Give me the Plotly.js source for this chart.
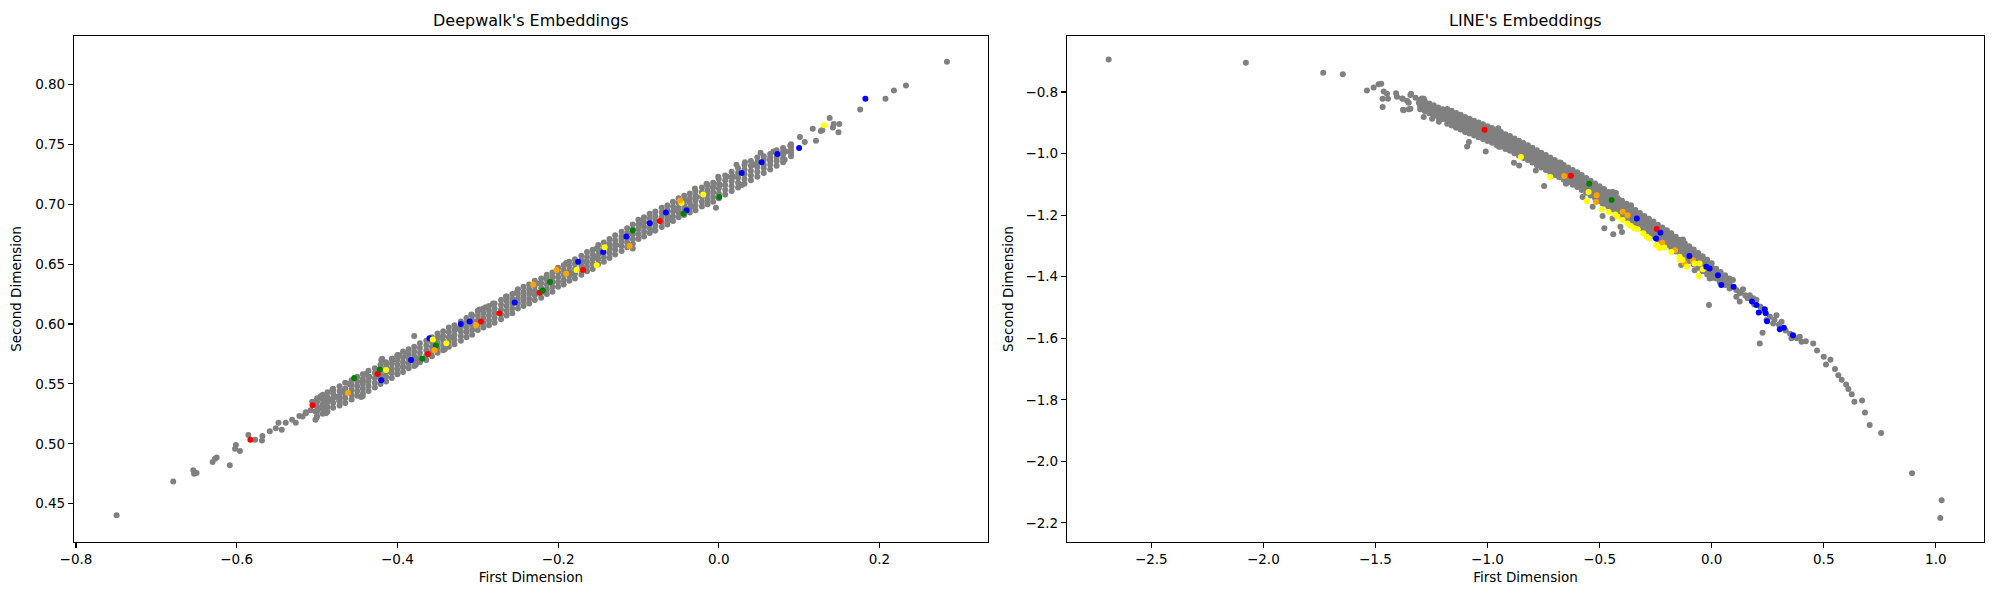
<!DOCTYPE html>
<html>
<head>
<meta charset="utf-8">
<script src="https://cdn.plot.ly/plotly-3.0.1.min.js"></script>
<style>
  html, body { margin: 0; padding: 0; background: #fff; }
  #chart { width: 2000px; height: 600px; }
</style>
</head>
<body>
<div id="chart"></div>
<script>
// ---- Deepwalk's embeddings (left panel) ----
// points
var dwGrayX = [-0.7495,-0.679,-0.654,-0.653,-0.650,-0.630,-0.627,-0.625,-0.6086,-0.601,-0.602,-0.596,-0.577,-0.5686,
  -0.5855,-0.568,-0.5588,-0.5513,-0.5439,-0.539,-0.548,-0.531,-0.5264,-0.522,-0.514,-0.508,-0.5006,-0.4952,-0.4973,-0.488,-0.4807,-0.4765,-0.4724,-0.4432,-0.4391,-0.419,-0.406,-0.3996,
  -0.2147,-0.235,-0.252,-0.265,-0.281,-0.290,-0.298,-0.308,-0.327,-0.331,-0.348,-0.379,-0.341,-0.377,-0.377,-0.389,-0.398,-0.393,-0.406,-0.414,-0.408,-0.420,-0.418,-0.435,-0.443,-0.460,-0.445,-0.468,-0.472,-0.480,-0.485,-0.495,-0.493,-0.506,-0.502,-0.489,-0.514,-0.518,-0.502,
  0.138,0.143,0.150,0.149,0.117,0.121,0.127,0.101,0.107,0.089,0.084,0.082,0.068,0.0637,0.052,0.043,0.0326,0.022,0.018,0.0285,0.010,-0.0007,0.0014,-0.007,-0.0152,-0.0297,-0.0035,-0.0277,-0.038,-0.034,-0.0546,-0.059,-0.0797,-0.094,-0.098,-0.121,-0.107,-0.1275,-0.136,-0.152,-0.154,-0.169,-0.181,-0.190,-0.223,
  0.284,0.233,0.218,0.2075,0.176,0.142,0.129];
var dwGrayY = [0.4403,0.4686,0.4778,0.4750,0.4756,0.4847,0.4875,0.4886,0.4820,0.4990,0.4958,0.4939,0.5033,0.5028,
  0.5073,0.5064,0.5105,0.5130,0.5118,0.5175,0.5175,0.5200,0.5175,0.5232,0.5264,0.5280,0.5217,0.5398,0.5296,0.5270,0.5455,0.5392,0.5360,0.5398,0.5583,0.5710,0.5710,0.5742,
  0.639,0.626,0.626,0.623,0.617,0.614,0.612,0.608,0.596,0.589,0.589,0.590,0.579,0.570,0.566,0.575,0.574,0.564,0.570,0.567,0.560,0.570,0.556,0.556,0.552,0.550,0.539,0.544,0.539,0.545,0.537,0.539,0.532,0.535,0.527,0.5255,0.5255,0.5227,0.520,
  0.772,0.767,0.767,0.760,0.763,0.753,0.761,0.756,0.752,0.749,0.744,0.737,0.744,0.737,0.743,0.733,0.735,0.733,0.723,0.716,0.723,0.723,0.716,0.7145,0.717,0.713,0.697,0.706,0.703,0.698,0.695,0.687,0.678,0.687,0.683,0.671,0.663,0.666,0.664,0.663,0.656,0.652,0.642,0.651,0.634,
  0.819,0.799,0.795,0.788,0.779,0.764,0.762];

// dense core of the band: x, then the y values stacked across the band
var dwBandRows = [
  [-0.500,0.523,0.527,0.531,0.535,0.538],[-0.493,0.525,0.529,0.533,0.537,0.541],[-0.487,0.527,0.531,0.535,0.539,0.543],
  [-0.480,0.530,0.534,0.538,0.542,0.546],[-0.472,0.532,0.536,0.540,0.544,0.548],[-0.465,0.534,0.538,0.542,0.546,0.551],
  [-0.457,0.537,0.541,0.545,0.549,0.553],[-0.450,0.540,0.544,0.548,0.552,0.556],[-0.443,0.542,0.546,0.550,0.554,0.558],
  [-0.436,0.544,0.548,0.552,0.556,0.561],[-0.428,0.547,0.551,0.555,0.559,0.563],[-0.421,0.550,0.554,0.558,0.562,0.566],
  [-0.414,0.552,0.556,0.560,0.564,0.568],[-0.407,0.555,0.559,0.563,0.567,0.571],[-0.400,0.558,0.562,0.566,0.570,0.574],
  [-0.393,0.560,0.564,0.568,0.572,0.577],[-0.386,0.563,0.567,0.571,0.575,0.579],[-0.379,0.565,0.569,0.573,0.577,0.581],
  [-0.372,0.568,0.572,0.576,0.580,0.584],[-0.364,0.570,0.574,0.578,0.582,0.586],[-0.357,0.573,0.577,0.581,0.585,0.589],
  [-0.350,0.576,0.580,0.584,0.588,0.592],[-0.343,0.578,0.582,0.586,0.590,0.594],[-0.336,0.581,0.585,0.589,0.593,0.597],
  [-0.329,0.583,0.587,0.591,0.595,0.599],[-0.321,0.586,0.590,0.594,0.598,0.602],[-0.314,0.589,0.593,0.597,0.601,0.605],
  [-0.307,0.591,0.595,0.599,0.603,0.607],[-0.300,0.595,0.599,0.603,0.607,0.611],[-0.293,0.597,0.601,0.605,0.609,0.613],
  [-0.286,0.599,0.603,0.607,0.611,0.615],[-0.279,0.601,0.605,0.609,0.613,0.617],[-0.271,0.604,0.608,0.612,0.616,0.620],
  [-0.264,0.607,0.611,0.615,0.619,0.623],[-0.257,0.609,0.613,0.617,0.621,0.625],[-0.250,0.613,0.617,0.621,0.625,0.629],
  [-0.243,0.615,0.619,0.623,0.627,0.631],[-0.236,0.617,0.621,0.625,0.629,0.633],[-0.229,0.620,0.624,0.628,0.632,0.636],
  [-0.221,0.622,0.626,0.630,0.634,0.638],[-0.214,0.625,0.629,0.633,0.637,0.641],[-0.207,0.627,0.631,0.635,0.639,0.643],
  [-0.200,0.631,0.635,0.639,0.643,0.647],[-0.193,0.633,0.637,0.641,0.645,0.649],[-0.186,0.636,0.640,0.644,0.648,0.652],
  [-0.179,0.638,0.642,0.646,0.650,0.654],[-0.171,0.641,0.645,0.649,0.653,0.657],[-0.164,0.644,0.648,0.652,0.656,0.660],
  [-0.157,0.646,0.650,0.654,0.658,0.662],[-0.150,0.650,0.654,0.658,0.662,0.666],[-0.143,0.652,0.656,0.660,0.664,0.668],
  [-0.136,0.655,0.659,0.663,0.667,0.671],[-0.129,0.658,0.662,0.666,0.670,0.674],[-0.121,0.661,0.665,0.669,0.673,0.677],
  [-0.114,0.664,0.668,0.672,0.676,0.680],[-0.107,0.667,0.671,0.675,0.679,0.683],[-0.100,0.671,0.675,0.679,0.683,0.687],
  [-0.093,0.673,0.677,0.681,0.685,0.689],[-0.086,0.676,0.680,0.684,0.688,0.692],[-0.079,0.678,0.682,0.686,0.690,0.694],
  [-0.071,0.681,0.685,0.689,0.693,0.697],[-0.064,0.683,0.687,0.691,0.695,0.699],[-0.057,0.686,0.690,0.694,0.698,0.702],
  [-0.050,0.689,0.693,0.697,0.701,0.705],[-0.043,0.691,0.695,0.699,0.703,0.707],[-0.036,0.693,0.697,0.701,0.705,0.709],
  [-0.029,0.695,0.699,0.703,0.707,0.711],[-0.021,0.698,0.702,0.706,0.710,0.714],[-0.014,0.700,0.704,0.708,0.712,0.716],
  [-0.007,0.702,0.706,0.710,0.714,0.718],[0.000,0.705,0.709,0.713,0.717,0.721],[0.008,0.708,0.712,0.716,0.720,0.724],
  [0.016,0.711,0.715,0.719,0.723,0.727],[0.024,0.714,0.718,0.722,0.726,0.730],[0.032,0.717,0.721,0.725,0.729,0.733],
  [0.040,0.720,0.724,0.728,0.732,0.736],[0.048,0.723,0.727,0.731,0.735,0.739],[0.056,0.726,0.730,0.733,0.737,0.740],
  [0.064,0.729,0.733,0.736,0.739,0.742],[0.072,0.732,0.736,0.739,0.742,0.745],[0.080,0.735,0.738,0.741,0.744,0.747],
  [0.090,0.740,0.743,0.745,0.748,0.750]];

var dwRedX = [-0.583,-0.5056,-0.4245,-0.362,-0.296,-0.273,-0.223,-0.169,-0.0734];
var dwRedY = [0.5033,0.5322,0.5583,0.575,0.602,0.609,0.626,0.645,0.686];
var dwBlueX = [-0.420,-0.383,-0.360,-0.321,-0.310,-0.254,-0.175,-0.144,-0.115,-0.0859,-0.0658,-0.040,0.0285,0.0533,0.073,0.100,0.1825];
var dwBlueY = [0.553,0.570,0.588,0.600,0.602,0.618,0.652,0.660,0.673,0.684,0.693,0.695,0.726,0.735,0.742,0.747,0.788];
var dwGreenX = [-0.4537,-0.422,-0.369,-0.352,-0.219,-0.210,-0.107,-0.044,0.0006];
var dwGreenY = [0.555,0.562,0.571,0.582,0.628,0.635,0.678,0.692,0.706];
var dwYellowX = [-0.414,-0.356,-0.339,-0.177,-0.152,-0.142,-0.0464,-0.0193,0.131];
var dwYellowY = [0.5615,0.587,0.584,0.645,0.649,0.664,0.701,0.708,0.766];
var dwOrangeX = [-0.4615,-0.354,-0.302,-0.231,-0.202,-0.190,-0.111,-0.048];
var dwOrangeY = [0.5424,0.578,0.599,0.633,0.645,0.642,0.665,0.703];

// ---- LINE's embeddings (right panel) ----
var lnGrayX = [-2.69,-2.078,-1.733,-1.6455,-1.538,-1.508,-1.486,-1.474,-1.463,-1.4485,-1.468,-1.444,-1.468,-1.408,-1.404,-1.378,-1.359,-1.341,-1.3515,-1.377,-1.3515,
  -1.321,-1.3067,-1.2844,-1.2844,-1.2696,-1.2472,-1.2472,-1.2248,-1.217,-1.2025,-1.1725,-1.180,-1.158,-1.142,-1.135,-1.101,-1.113,-1.091,-1.098,-1.068,-1.053,-1.083,-1.091,
  -1.031,-1.008,-0.986,-0.952,-0.963,-0.949,-0.919,-0.904,-0.882,-0.859,-0.8745,-0.845,-0.815,-0.7845,-0.7475,-0.743,-0.7255,-0.695,-0.673,-0.650,-0.606,-0.5685,-0.531,
  -1.381,-1.374,-1.344,-1.344,-1.292,-1.262,-1.232,-1.217,-1.1875,-1.098,-1.083,-1.061,-1.023,-0.993,-0.978,-0.956,-0.956,-0.934,-0.926,-0.949,-0.911,-0.889,-0.852,
  -0.829,-0.800,-0.777,-0.755,-0.740,-0.710,-0.695,-0.673,-0.636,-0.613,-0.583,-0.576,-0.554,-0.516,-0.4866,-0.4866,-0.479,-0.464,-0.576,
  -0.442,-0.427,-0.412,-0.464,-0.442,-0.407,-0.439,-0.400,-0.360,-0.345,-0.315,-0.292,-0.278,-0.300,-0.225,-0.203,-0.188,-0.143,-0.128,-0.136,-0.113,-0.054,-0.024,-0.076,
  0.0056,0.021,-0.009,0.036,0.066,0.095,0.088,0.110,0.125,0.140,0.110,0.125,-0.012,0.170,0.185,0.218,0.245,0.274,0.289,0.312,0.227,0.2145,0.356,0.393,0.401,0.453,
  0.13,0.15,0.16,0.19,0.20,0.23,0.26,0.28,0.30,0.33,0.35,0.38,0.42,
  0.47,0.50,0.51,0.53,0.55,0.565,0.58,0.60,0.61,
  0.625,0.637,0.671,0.684,0.705,0.756,0.894,1.026,1.020];
var lnGrayY = [-0.694,-0.705,-0.737,-0.742,-0.795,-0.785,-0.775,-0.773,-0.798,-0.806,-0.822,-0.822,-0.849,-0.804,-0.815,-0.822,-0.828,-0.806,-0.835,-0.858,-0.856,
  -0.819,-0.835,-0.822,-0.881,-0.850,-0.862,-0.887,-0.856,-0.875,-0.868,-0.862,-0.887,-0.893,-0.912,-0.900,-0.890,-0.912,-0.912,-0.930,-0.912,-0.924,-0.962,-0.977,
  -0.924,-0.993,-0.937,-0.918,-0.949,-0.968,-0.943,-0.974,-1.030,-1.039,-0.993,-0.980,-1.011,-1.055,-1.105,-1.018,-1.049,-1.043,-1.030,-1.098,-1.086,-1.092,-1.173,
  -0.821,-0.859,-0.810,-0.854,-0.821,-0.854,-0.859,-0.897,-0.886,-0.892,-0.908,-0.924,-0.935,-0.924,-0.940,-0.924,-0.951,-0.940,-0.962,-0.978,-0.983,-0.973,-0.973,
  -1.011,-1.021,-1.038,-1.027,-1.048,-1.043,-1.070,-1.059,-1.054,-1.076,-1.081,-1.108,-1.119,-1.119,-1.162,-1.203,-1.243,-1.146,-1.141,
  -1.124,-1.128,-1.151,-1.168,-1.211,-1.238,-1.262,-1.255,-1.168,-1.189,-1.222,-1.216,-1.238,-1.254,-1.272,-1.281,-1.297,-1.292,-1.279,-1.362,-1.314,-1.335,-1.346,-1.379,
  -1.389,-1.400,-1.406,-1.417,-1.422,-1.411,-1.433,-1.443,-1.454,-1.441,-1.465,-1.481,-1.492,-1.460,-1.470,-1.498,-1.541,-1.552,-1.525,-1.546,-1.582,-1.617,-1.600,-1.595,-1.611,-1.617,
  -1.450,-1.460,-1.470,-1.490,-1.475,-1.510,-1.530,-1.540,-1.555,-1.575,-1.585,-1.600,-1.610,
  -1.640,-1.660,-1.685,-1.670,-1.700,-1.720,-1.735,-1.750,-1.765,
  -1.782,-1.806,-1.802,-1.841,-1.882,-1.908,-2.039,-2.126,-2.184];

var lnBandRows = [
  [-1.30,-0.824,-0.832,-0.840,-0.848,-0.856],[-1.28,-0.830,-0.838,-0.846,-0.854,-0.862],[-1.26,-0.837,-0.845,-0.853,-0.861,-0.869],
  [-1.24,-0.843,-0.851,-0.859,-0.867,-0.875],[-1.22,-0.850,-0.858,-0.866,-0.874,-0.882],[-1.20,-0.856,-0.864,-0.872,-0.880,-0.888],
  [-1.18,-0.855,-0.867,-0.879,-0.891,-0.903],[-1.16,-0.861,-0.873,-0.885,-0.897,-0.909],[-1.14,-0.868,-0.880,-0.892,-0.904,-0.916],
  [-1.12,-0.874,-0.886,-0.898,-0.910,-0.922],[-1.10,-0.881,-0.893,-0.905,-0.917,-0.929],[-1.08,-0.887,-0.899,-0.911,-0.923,-0.935],
  [-1.06,-0.893,-0.905,-0.917,-0.929,-0.941],[-1.04,-0.899,-0.911,-0.923,-0.935,-0.947],[-1.02,-0.905,-0.917,-0.929,-0.941,-0.953],
  [-1.00,-0.911,-0.923,-0.935,-0.947,-0.959],[-0.98,-0.917,-0.929,-0.941,-0.953,-0.965],[-0.96,-0.924,-0.936,-0.948,-0.960,-0.972],
  [-0.94,-0.930,-0.942,-0.954,-0.966,-0.978],[-0.92,-0.937,-0.949,-0.961,-0.973,-0.985],[-0.90,-0.943,-0.955,-0.967,-0.979,-0.991],
  [-0.88,-0.951,-0.963,-0.975,-0.987,-0.999],[-0.86,-0.958,-0.970,-0.982,-0.994,-1.006],[-0.84,-0.966,-0.978,-0.990,-1.002,-1.014],
  [-0.82,-0.973,-0.985,-0.997,-1.009,-1.021],[-0.80,-0.981,-0.993,-1.005,-1.017,-1.029],[-0.78,-0.989,-1.001,-1.013,-1.025,-1.037],
  [-0.76,-0.997,-1.009,-1.021,-1.033,-1.045],[-0.74,-1.005,-1.017,-1.029,-1.041,-1.053],[-0.72,-1.013,-1.025,-1.037,-1.049,-1.061],
  [-0.70,-1.021,-1.033,-1.045,-1.057,-1.069],[-0.68,-1.029,-1.041,-1.053,-1.065,-1.077],[-0.66,-1.037,-1.049,-1.061,-1.073,-1.085],
  [-0.64,-1.045,-1.057,-1.069,-1.081,-1.093],[-0.62,-1.053,-1.065,-1.077,-1.089,-1.101],[-0.60,-1.061,-1.073,-1.085,-1.097,-1.109],
  [-0.58,-1.070,-1.082,-1.094,-1.106,-1.118],[-0.56,-1.079,-1.091,-1.103,-1.115,-1.127],[-0.54,-1.088,-1.100,-1.112,-1.124,-1.136],
  [-0.52,-1.097,-1.109,-1.121,-1.133,-1.145],[-0.50,-1.106,-1.118,-1.130,-1.142,-1.154],[-0.48,-1.115,-1.127,-1.139,-1.151,-1.163],
  [-0.46,-1.125,-1.137,-1.149,-1.161,-1.173],[-0.44,-1.134,-1.146,-1.158,-1.170,-1.182],[-0.42,-1.144,-1.156,-1.168,-1.180,-1.192],
  [-0.40,-1.153,-1.165,-1.177,-1.189,-1.201],[-0.38,-1.163,-1.175,-1.187,-1.199,-1.211],[-0.36,-1.173,-1.185,-1.197,-1.209,-1.221],
  [-0.34,-1.183,-1.195,-1.207,-1.219,-1.231],[-0.32,-1.193,-1.205,-1.217,-1.229,-1.241],[-0.30,-1.203,-1.215,-1.227,-1.239,-1.251],
  [-0.28,-1.212,-1.224,-1.236,-1.248,-1.260],[-0.26,-1.221,-1.233,-1.245,-1.257,-1.269],[-0.24,-1.231,-1.243,-1.255,-1.267,-1.279],
  [-0.22,-1.240,-1.252,-1.264,-1.276,-1.288],[-0.20,-1.249,-1.261,-1.273,-1.285,-1.297],[-0.18,-1.259,-1.271,-1.283,-1.295,-1.307],
  [-0.16,-1.270,-1.282,-1.294,-1.306,-1.318],[-0.14,-1.280,-1.292,-1.304,-1.316,-1.328],[-0.12,-1.291,-1.303,-1.315,-1.327,-1.339],
  [-0.10,-1.301,-1.313,-1.325,-1.337,-1.349],[-0.08,-1.312,-1.324,-1.336,-1.348,-1.360],[-0.06,-1.323,-1.335,-1.347,-1.359,-1.371],
  [-0.04,-1.334,-1.346,-1.358,-1.370,-1.382],[-0.02,-1.345,-1.357,-1.369,-1.381,-1.393],[0.00,-1.356,-1.368,-1.380,-1.392,-1.404],
  [0.02,-1.374,-1.382,-1.390,-1.398,-1.406],[0.04,-1.385,-1.393,-1.401,-1.409,-1.417],[0.06,-1.395,-1.403,-1.411,-1.419,-1.427],
  [0.08,-1.406,-1.414,-1.422,-1.430,-1.438]];

var lnRedX = [-1.013,-0.628,-0.245];
var lnRedY = [-0.923,-1.072,-1.245];
var lnGreenX = [-0.546,-0.446];
var lnGreenY = [-1.098,-1.151];
var lnYellowX = [-0.851,-0.720,-0.549,-0.558,-0.491,-0.460,-0.430,-0.420,-0.397,-0.375,-0.360,-0.345,-0.330,-0.305,-0.290,-0.278,-0.248,-0.233,-0.211,-0.180,-0.143,-0.143,-0.130,-0.111,-0.076,-0.054,-0.039,-0.057];
var lnYellowY = [-1.011,-1.076,-1.125,-1.155,-1.181,-1.190,-1.198,-1.205,-1.216,-1.227,-1.235,-1.243,-1.246,-1.259,-1.270,-1.276,-1.297,-1.308,-1.305,-1.320,-1.335,-1.346,-1.345,-1.368,-1.357,-1.357,-1.376,-1.398];
var lnOrangeX = [-0.658,-0.513,-0.516,-0.397,-0.375,-0.220,-0.163,-0.121,-0.084];
var lnOrangeY = [-1.073,-1.135,-1.157,-1.189,-1.200,-1.290,-1.314,-1.357,-1.346];
var lnBlueX = [-0.334,-0.2285,-0.248,-0.099,-0.024,-0.009,0.028,0.043,0.098,0.180,0.200,0.210,0.237,0.241,0.247,0.304,0.322,0.363];
var lnBlueY = [-1.211,-1.257,-1.276,-1.333,-1.368,-1.373,-1.395,-1.427,-1.433,-1.481,-1.492,-1.516,-1.506,-1.519,-1.545,-1.571,-1.566,-1.590];

var dotSize = 6;

function grayTrace(xs, ys, rows, xa, ya) {
  var x = [], y = [];
  rows.forEach(function (r) {
    for (var i = 1; i < r.length; i++) {
      x.push(r[0]);
      y.push(r[i]);
    }
  });
  return {
    x: x.concat(xs), y: y.concat(ys), xaxis: xa, yaxis: ya,
    mode: 'markers', type: 'scatter', hoverinfo: 'skip',
    marker: { color: '#808080', size: dotSize, line: { width: 0 } }
  };
}

function colorTrace(xs, ys, col, xa, ya) {
  return {
    x: xs, y: ys, xaxis: xa, yaxis: ya,
    mode: 'markers', type: 'scatter', hoverinfo: 'skip',
    marker: { color: col, size: dotSize, line: { width: 0 } }
  };
}

var data = [
  grayTrace(dwGrayX, dwGrayY, dwBandRows, 'x', 'y'),
  colorTrace(dwRedX, dwRedY, 'red', 'x', 'y'),
  colorTrace(dwBlueX, dwBlueY, 'blue', 'x', 'y'),
  colorTrace(dwGreenX, dwGreenY, 'green', 'x', 'y'),
  colorTrace(dwYellowX, dwYellowY, 'yellow', 'x', 'y'),
  colorTrace(dwOrangeX, dwOrangeY, 'orange', 'x', 'y'),
  grayTrace(lnGrayX, lnGrayY, lnBandRows, 'x2', 'y2'),
  colorTrace(lnRedX, lnRedY, 'red', 'x2', 'y2'),
  colorTrace(lnGreenX, lnGreenY, 'green', 'x2', 'y2'),
  colorTrace(lnOrangeX, lnOrangeY, 'orange', 'x2', 'y2'),
  colorTrace(lnYellowX, lnYellowY, 'yellow', 'x2', 'y2'),
  colorTrace(lnBlueX, lnBlueY, 'blue', 'x2', 'y2')
];

var tickFont = { family: 'DejaVu Sans', size: 13.5, color: '#000' };

function axis(extra) {
  var a = {
    showline: true, mirror: true, linecolor: '#000', linewidth: 1.1,
    ticks: 'outside', ticklen: 5, tickwidth: 1.1, tickcolor: '#000',
    showgrid: false, zeroline: false, tickfont: tickFont, automargin: false
  };
  for (var k in extra) a[k] = extra[k];
  return a;
}

var layout = {
  width: 2000,
  height: 600,
  autosize: false,
  showlegend: false,
  paper_bgcolor: '#fff',
  plot_bgcolor: '#fff',
  font: { family: 'DejaVu Sans', color: '#000' },
  margin: { l: 74, r: 16, t: 36, b: 58, pad: 0 },
  xaxis: axis({
    domain: [0, 0.4785], range: [-0.8025, 0.335],
    tickvals: [-0.8, -0.6, -0.4, -0.2, 0.0, 0.2], tickformat: '.1f',
    title: { text: 'First Dimension', font: { size: 13.5 }, standoff: 6 }
  }),
  yaxis: axis({
    domain: [0, 1], range: [0.418, 0.8404],
    tickvals: [0.45, 0.50, 0.55, 0.60, 0.65, 0.70, 0.75, 0.80], tickformat: '.2f',
    title: { text: 'Second Dimension', font: { size: 13.5 }, standoff: 10 }
  }),
  xaxis2: axis({
    domain: [0.5199, 1], range: [-2.876, 1.215], anchor: 'y2',
    tickvals: [-2.5, -2.0, -1.5, -1.0, -0.5, 0.0, 0.5, 1.0], tickformat: '.1f',
    title: { text: 'First Dimension', font: { size: 13.5 }, standoff: 6 }
  }),
  yaxis2: axis({
    domain: [0, 1], range: [-2.262, -0.618], anchor: 'x2',
    tickvals: [-2.2, -2.0, -1.8, -1.6, -1.4, -1.2, -1.0, -0.8], tickformat: '.1f',
    title: { text: 'Second Dimension', font: { size: 13.5 }, standoff: 8 }
  }),
  annotations: [
    { text: "Deepwalk's Embeddings", xref: 'x domain', yref: 'y domain', x: 0.5, y: 1,
      xanchor: 'center', yanchor: 'bottom', yshift: 4, showarrow: false,
      font: { family: 'DejaVu Sans', size: 16, color: '#000' } },
    { text: "LINE's Embeddings", xref: 'x2 domain', yref: 'y2 domain', x: 0.5, y: 1,
      xanchor: 'center', yanchor: 'bottom', yshift: 4, showarrow: false,
      font: { family: 'DejaVu Sans', size: 16, color: '#000' } }
  ]
};

Plotly.newPlot('chart', data, layout, { displayModeBar: false, staticPlot: true });
</script>
</body>
</html>
